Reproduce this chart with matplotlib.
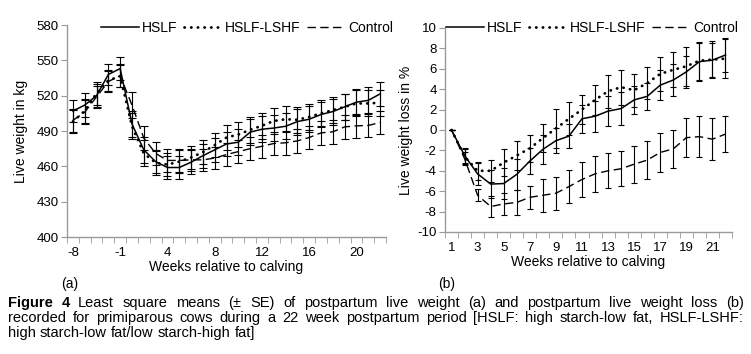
import numpy as np
import matplotlib
matplotlib.use("Agg")
import matplotlib.pyplot as plt
from matplotlib import font_manager

# ---------------- data ----------------
# Panel (a): live weight (kg)
weeks_a = ["-8", "-6", "-4", "-2", "-1", "1", "2", "3", "4", "5", "6", "7", "8", "9", "10",
           "11", "12", "13", "14", "15", "16", "17", "18", "19", "20", "21", "22"]
tick_labels_a = ["-8", "-1", "4", "8", "12", "16", "20"]
hslf_a = [507, 512, 520, 538, 543, 496, 474, 464, 459, 459, 463.5, 469, 474, 479, 480.5,
          489, 491.5, 492.5, 494, 498, 500, 504, 506.5, 510.5, 514.5, 516, 521.5]
lshf_a = [498, 507, 522, 533, 536.5, 494, 471, 463, 461.5, 464, 467.5, 472, 478, 484.5, 487,
          491, 494.5, 498.5, 500, 499.5, 502, 505, 507.7, 510.5, 513.4, 513.4, 514]
ctrl_a = [499, 506, 519, 532, 537, 512, 484, 471, 465, 465, 465.5, 465.5, 467, 470, 472.5,
          475, 477, 479.4, 480, 481.6, 484.5, 488.4, 489.3, 493.5, 494.4, 494.7, 497.2]
se_hslf_a = [9.5, 10, 9.5, 9, 9.5, 11, 11, 10, 10, 10, 10, 10, 10, 10.5, 11,
             11, 11, 11, 11, 11, 11, 11, 11, 11, 11, 11, 10.5]
se_lshf_a = [10, 10, 9.5, 9, 9.5, 11, 11, 10, 10, 10, 10, 10, 10, 10.5, 11,
             11, 11, 11, 11, 11, 11, 11, 11, 11, 11, 11, 11]
se_ctrl_a = [10, 10, 9.5, 9, 9.5, 11, 10, 9.5, 9.5, 9.5, 9.5, 9.5, 9.5, 10, 10,
             10, 10, 10, 10, 10, 10, 10, 10, 10, 10, 10, 10]

# Panel (b): live weight loss (%)
weeks_b = list(range(1, 23))
tick_labels_b = ["1", "3", "5", "7", "9", "11", "13", "15", "17", "19", "21"]
hslf_b = [0, -2.5, -4.3, -5.3, -5.25, -4.35, -3.05, -1.9, -1.05, -0.6, 1.1, 1.35, 1.85, 2.1,
          2.95, 3.3, 4.4, 4.9, 5.7, 6.7, 6.85, 7.35]
lshf_b = [0, -2.6, -4.0, -4.0, -3.2, -2.5, -1.8, -0.8, 0.15, 1.1, 2.0, 2.95, 3.8, 4.2,
          3.9, 4.6, 5.5, 5.9, 6.25, 6.8, 6.9, 7.0]
ctrl_b = [0, -2.8, -6.4, -7.5, -7.25, -7.1, -6.6, -6.4, -6.2, -5.55, -4.85, -4.3, -4.0, -3.8,
          -3.35, -2.95, -2.2, -1.85, -0.75, -0.65, -0.9, -0.4]
se_hslf_b = [0, 0.7, 1.1, 1.4, 1.5, 1.5, 1.3, 1.4, 1.2, 1.2, 1.4, 1.5, 1.5, 1.6, 1.4, 1.3,
             1.5, 1.6, 1.6, 1.85, 1.7, 1.65]
se_lshf_b = [0, 0.7, 0.9, 1.1, 1.3, 1.4, 1.3, 1.4, 1.9, 1.6, 1.4, 1.5, 1.6, 1.7, 1.6, 1.6,
             1.7, 1.7, 1.9, 1.85, 1.8, 1.9]
se_ctrl_b = [0, 0.6, 0.6, 1.0, 1.05, 1.2, 1.1, 1.6, 1.6, 1.6, 1.7, 1.8, 1.7, 1.7, 1.8, 1.85,
             1.9, 1.85, 1.9, 2.0, 2.05, 1.8]

series_names = ["HSLF", "HSLF-LSHF", "Control"]

# ---------------- style ----------------
avail = {f.name for f in font_manager.fontManager.ttflist}
main_font = "Liberation Sans" if "Liberation Sans" in avail else "DejaVu Sans"
narrow_font = "Liberation Sans Narrow" if "Liberation Sans Narrow" in avail else main_font
plt.rcParams["font.family"] = [main_font, "DejaVu Sans"]
plt.rcParams["axes.unicode_minus"] = False

W, H = 751, 354
fig = plt.figure(figsize=(W / 100, H / 100), dpi=100)

def fx(px):
    return px / W

def fy(py):
    return 1 - py / H

axis_gray = "#9a9a9a"
styles = [
    dict(color="black", lw=1.1, ls="-"),
    dict(color="black", lw=2.0, ls=(0, (0.1, 2.3)), dash_capstyle="round"),
    dict(color="black", lw=1.0, ls=(0, (6.0, 3.2))),
]

def draw_panel(ax, x, ys, ses, capsize):
    handles = []
    for y, se, st, name in zip(ys, ses, styles, series_names):
        ax.errorbar(x, y, yerr=se, fmt="none", ecolor="black", elinewidth=0.8,
                    capsize=capsize, capthick=0.8, zorder=2)
        (h,) = ax.plot(x, y, label=name, zorder=3, **st)
        handles.append(h)
    for s in ["top", "right"]:
        ax.spines[s].set_visible(False)
    for s in ["left", "bottom"]:
        ax.spines[s].set_color(axis_gray)
        ax.spines[s].set_linewidth(1.0)
    ax.tick_params(axis="y", which="major", direction="out", length=4, color=axis_gray,
                   labelsize=9.5, pad=2)
    ax.tick_params(axis="x", which="major", length=0, labelsize=9.5, pad=7)
    ax.tick_params(axis="x", which="minor", direction="out", length=4, color=axis_gray)
    return handles

# ---------------- panel (a) ----------------
axa = fig.add_axes([fx(67), fy(237), fx(386) - fx(67), fy(25) - fy(237)])
xa = np.arange(len(weeks_a))
ha = draw_panel(axa, xa, [hslf_a, lshf_a, ctrl_a], [se_hslf_a, se_lshf_a, se_ctrl_a], 3)
axa.set_xlim(-0.5, len(weeks_a) - 0.5)
axa.set_ylim(400, 580)
axa.set_yticks(np.arange(400, 581, 30))
axa.set_xticks([weeks_a.index(t) for t in tick_labels_a])
axa.set_xticklabels(tick_labels_a)
axa.set_xticks(np.arange(-0.5, len(weeks_a), 1.0), minor=True)
axa.set_xlabel("Weeks relative to calving", fontsize=10, labelpad=1)
axa.set_ylabel("Live weight in kg", fontsize=10, labelpad=6)

# ---------------- panel (b) ----------------
axb = fig.add_axes([fx(445), fy(232), fx(732) - fx(445), fy(28) - fy(232)])
xb = np.array(weeks_b)
hb = draw_panel(axb, xb, [hslf_b, lshf_b, ctrl_b], [se_hslf_b, se_lshf_b, se_ctrl_b], 2.2)
axb.set_xlim(0.5, 22.5)
axb.set_ylim(-10, 10)
axb.set_yticks(np.arange(-10, 11, 2))
axb.set_xticks([int(t) for t in tick_labels_b])
axb.set_xticklabels(tick_labels_b)
axb.set_xticks(np.arange(0.5, 23, 1.0), minor=True)
axb.set_xlabel("Weeks relative to calving", fontsize=10, labelpad=1)
axb.set_ylabel("Live weight loss in %", fontsize=10, labelpad=3)

# ---------------- legends ----------------
for handles, cx in [(ha, 247), (hb, 592)]:
    fig.legend(handles=handles, labels=series_names, loc="center",
               bbox_to_anchor=(fx(cx), fy(28)), ncol=3, frameon=False, fontsize=10,
               handlelength=2.7, handletextpad=0.25, columnspacing=0.45, borderpad=0,
               borderaxespad=0)

# ---------------- panel tags & caption ----------------
fig.text(fx(70), fy(284), "(a)", ha="center", va="center", fontsize=10, family=narrow_font)
fig.text(fx(447), fy(284), "(b)", ha="center", va="center", fontsize=10, family=narrow_font)

caption_lines = [
    ("Figure 4 Least square means (\u00b1 SE) of postpartum live weight (a) and postpartum live weight loss (b)", True, 307),
    ("recorded for primiparous cows during a 22 week postpartum period [HSLF: high starch-low fat, HSLF-LSHF:", True, 322),
    ("high starch-low fat/low starch-high fat]", False, 337),
]
cap_x0, cap_x1 = 8, 744
cap_size = 10.5
renderer = fig.canvas.get_renderer()
t1 = fig.text(0, 0, "a a", fontsize=cap_size, family=narrow_font)
t2 = fig.text(0, 0, "aa", fontsize=cap_size, family=narrow_font)
sp_w = t1.get_window_extent(renderer).width - t2.get_window_extent(renderer).width
t1.remove()
t2.remove()
for li, (line, justify, base) in enumerate(caption_lines):
    words = line.split(" ")
    texts = []
    for wi, w in enumerate(words):
        bold = (li == 0 and wi < 2)
        t = fig.text(0, fy(base), w, ha="left", va="baseline", fontsize=cap_size,
                     family=narrow_font, fontweight="bold" if bold else "normal")
        texts.append(t)
    widths = [t.get_window_extent(renderer).width for t in texts]
    if justify and len(words) > 1:
        gap = (cap_x1 - cap_x0 - sum(widths)) / (len(words) - 1)
    else:
        gap = sp_w
    xpos = cap_x0
    for t, wdt in zip(texts, widths):
        t.set_x(fx(xpos))
        xpos += wdt + gap

fig.savefig("out.png", dpi=100)
